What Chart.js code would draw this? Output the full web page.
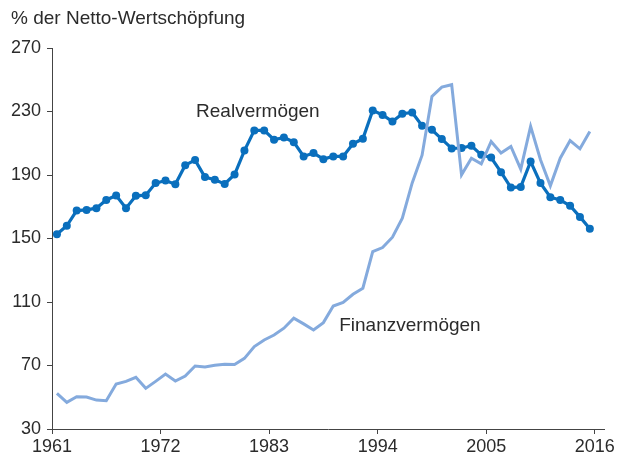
<!DOCTYPE html>
<html>
<head>
<meta charset="utf-8">
<script src="https://cdn.jsdelivr.net/npm/chart.js@4.4.1/dist/chart.umd.min.js"></script>
<style>
  body { margin: 0; background: #fff; }
  canvas { display: block; }
</style>
</head>
<body>
<canvas id="grafica" width="617" height="459"></canvas>
<script>
// Jahre 1961..2015
const jahre = [];
for (let j = 1961; j <= 2015; j++) jahre.push(j);

const realvermoegen = [
  152.7, 158.0, 167.6, 168.0, 169.1, 174.3, 177.1, 169.1, 176.9, 177.3,
  184.9, 186.5, 184.2, 196.2, 199.4, 188.7, 187.0, 184.4, 190.3, 205.4,
  218.1, 218.1, 212.2, 213.6, 210.7, 201.7, 203.8, 200.0, 201.7, 201.7,
  209.7, 212.8, 230.7, 227.8, 223.7, 228.6, 229.4, 221.1, 218.5, 212.6,
  206.7, 207.0, 208.4, 202.7, 201.0, 191.8, 182.1, 182.5, 198.5, 184.9,
  176.0, 174.3, 170.6, 163.6, 156.1
];

const finanzvermoegen = [
  52.5, 46.8, 50.3, 50.1, 48.2, 47.8, 58.3, 60.0, 62.6, 55.6,
  60.0, 64.6, 60.2, 63.4, 69.7, 69.1, 70.1, 70.8, 70.6, 74.5,
  81.9, 86.1, 89.2, 93.5, 99.8, 96.2, 92.4, 97.0, 107.5, 109.8,
  114.9, 118.7, 141.8, 144.3, 150.8, 162.8, 185.0, 202.5, 239.5, 245.4,
  246.9, 190.1, 200.6, 197.0, 211.1, 203.8, 208.0, 193.7, 220.6, 199.6,
  183.2, 200.6, 211.7, 206.5, 217.4
];

const xTicks = [1961, 1972, 1983, 1994, 2005, 2016];
const yTicks = [30, 70, 110, 150, 190, 230, 270];

const titel = '% der Netto-Wertschöpfung';
const beschriftungen = [
  { text: 'Realvermögen', x: 1975.6, y: 230.0 },
  { text: 'Finanzvermögen', x: 1990.1, y: 95.0 }
];

const schrift = '"Liberation Sans", Arial, Helvetica, sans-serif';
const textFarbe = '#2b2b2b';
const achsenFarbe = '#444';

// Werte jeweils zur Jahresmitte
const punkte = (werte) => werte.map((v, i) => ({ x: jahre[i] + 0.5, y: v }));

const textPlugin = {
  id: 'texte',
  afterDraw(chart) {
    const ctx = chart.ctx;
    const sx = chart.scales.x, sy = chart.scales.y;
    ctx.save();
    ctx.fillStyle = textFarbe;
    ctx.font = '19px ' + schrift;
    ctx.textBaseline = 'middle';
    ctx.textAlign = 'left';
    ctx.fillText(titel, 11, 19);
    beschriftungen.forEach(b => {
      ctx.fillText(b.text, sx.getPixelForValue(b.x), sy.getPixelForValue(b.y));
    });
    ctx.restore();
  }
};

new Chart(document.getElementById('grafica'), {
  type: 'line',
  data: {
    datasets: [
      {
        label: 'Finanzvermögen',
        data: punkte(finanzvermoegen),
        borderColor: '#84aadd',
        borderWidth: 3,
        pointRadius: 0,
        tension: 0
      },
      {
        label: 'Realvermögen',
        data: punkte(realvermoegen),
        borderColor: '#0a6fbd',
        backgroundColor: '#0a6fbd',
        borderWidth: 3.2,
        pointRadius: 4,
        pointBorderWidth: 0,
        tension: 0
      }
    ]
  },
  options: {
    responsive: false,
    animation: false,
    layout: { padding: { left: 0, right: 12, top: 48, bottom: 0 } },
    plugins: {
      legend: { display: false },
      tooltip: { enabled: false }
    },
    scales: {
      x: {
        type: 'linear',
        min: 1961,
        max: 2017,
        afterBuildTicks: (s) => { s.ticks = xTicks.map(v => ({ value: v })); },
        afterFit: (s) => { s.height = 30; },
        grid: { drawOnChartArea: false, drawTicks: true, tickLength: 5, color: achsenFarbe },
        border: { display: true, color: achsenFarbe, width: 1 },
        ticks: {
          color: textFarbe,
          font: { family: schrift, size: 18 },
          padding: 2,
          maxRotation: 0,
          autoSkip: false,
          callback: (v) => String(v)
        }
      },
      y: {
        min: 30,
        max: 270,
        afterBuildTicks: (s) => { s.ticks = yTicks.map(v => ({ value: v })); },
        afterFit: (s) => { s.width = 52; },
        grid: { drawOnChartArea: false, drawTicks: true, tickLength: 5, color: achsenFarbe },
        border: { display: true, color: achsenFarbe, width: 1 },
        ticks: {
          color: textFarbe,
          font: { family: schrift, size: 18 },
          padding: 6
        }
      }
    }
  },
  plugins: [textPlugin]
});
</script>
</body>
</html>
